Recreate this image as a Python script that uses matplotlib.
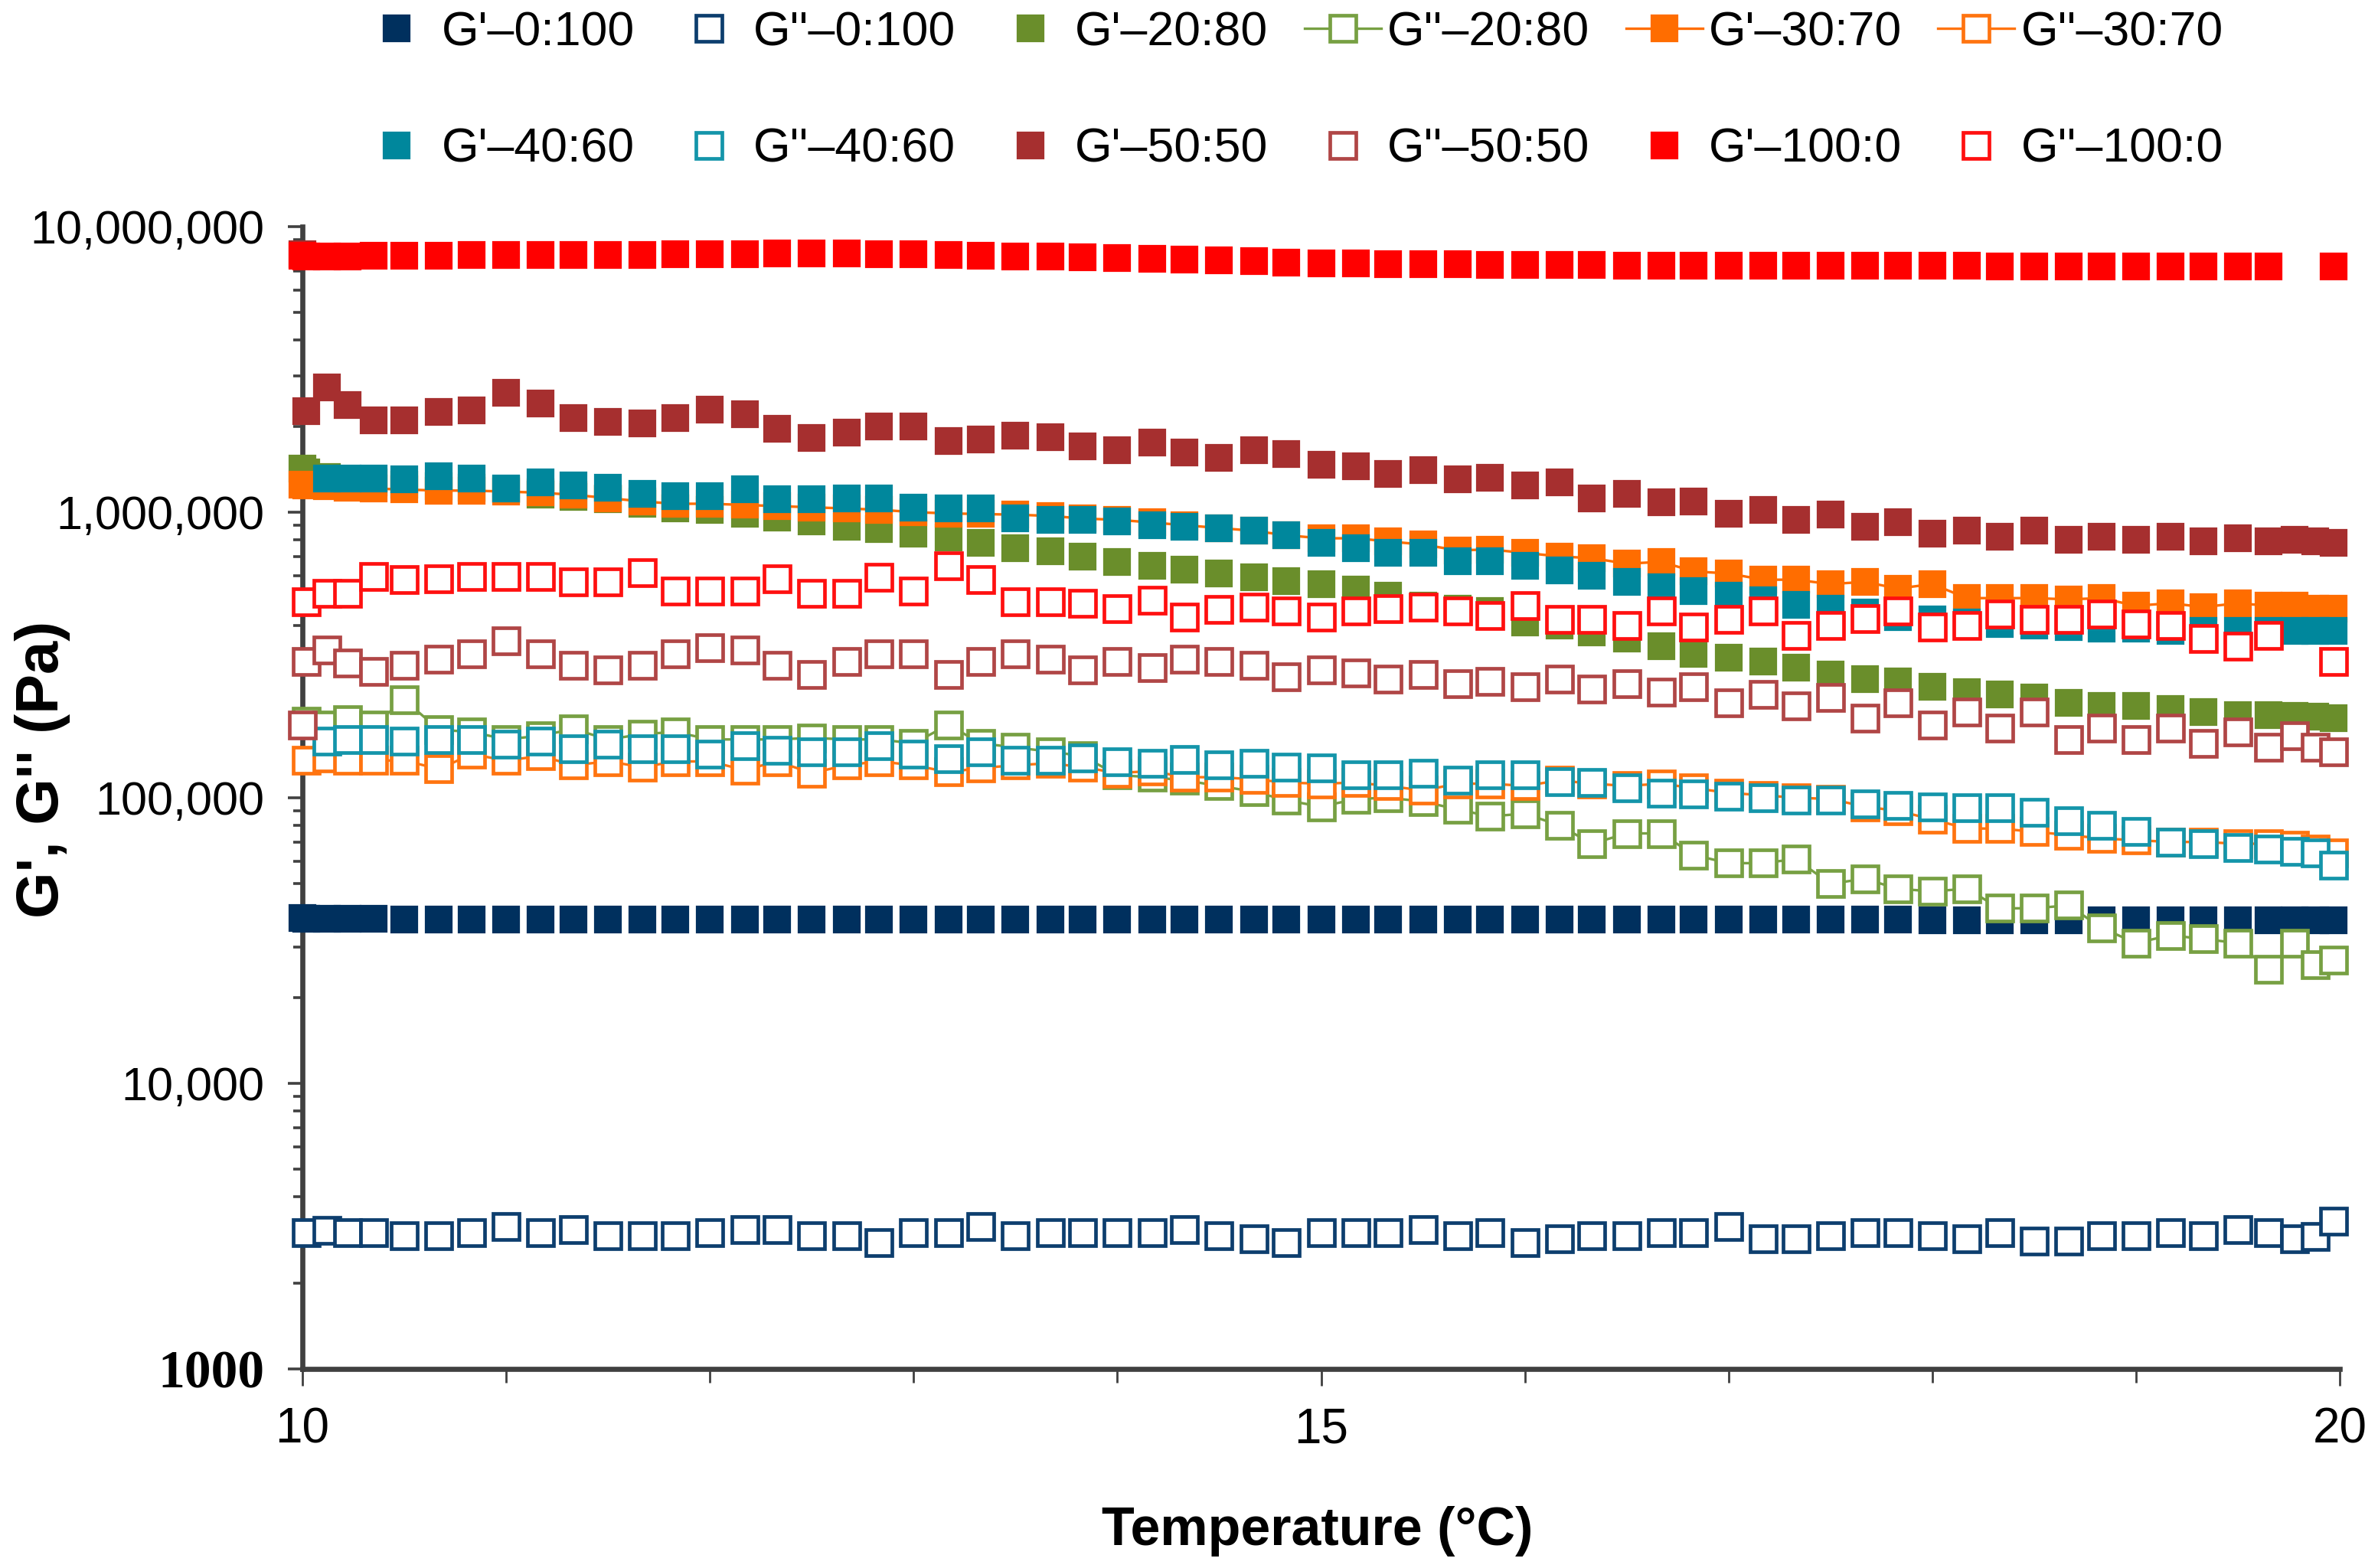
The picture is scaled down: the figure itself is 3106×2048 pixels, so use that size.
import numpy as np
import matplotlib
matplotlib.use('Agg')
import matplotlib.pyplot as plt
from matplotlib import font_manager
from matplotlib.ticker import LogLocator, NullFormatter, MultipleLocator

nan = np.nan

# temperature sweep (°C)
temps = [10.00, 10.02, 10.12, 10.22, 10.35, 10.50, 10.67, 10.83, 11.00, 11.17,
         11.33, 11.50, 11.67, 11.83, 12.00, 12.17, 12.33, 12.50, 12.67, 12.83,
         13.00, 13.17, 13.33, 13.50, 13.67, 13.83, 14.00, 14.17, 14.33, 14.50,
         14.67, 14.83, 15.00, 15.17, 15.33, 15.50, 15.67, 15.83, 16.00, 16.17,
         16.33, 16.50, 16.67, 16.83, 17.00, 17.17, 17.33, 17.50, 17.67, 17.83,
         18.00, 18.17, 18.33, 18.50, 18.67, 18.83, 19.00, 19.17, 19.33, 19.50,
         19.65, 19.78, 19.88, 19.97]

# moduli in kPa
g1_0_100 = [38.0, 37.8, 37.7, 37.6, 37.6, 37.5, 37.5, 37.5, 37.5, 37.5,
            37.5, 37.5, 37.5, 37.5, 37.5, 37.5, 37.5, 37.5, 37.5, 37.5,
            37.5, 37.5, 37.5, 37.5, 37.5, 37.5, 37.5, 37.5, 37.5, 37.5,
            37.5, 37.5, 37.5, 37.5, 37.5, 37.4, 37.4, 37.4, 37.4, 37.4,
            37.4, 37.4, 37.4, 37.4, 37.4, 37.4, 37.4, 37.4, 37.4, 37.4,
            37.3, 37.3, 37.3, 37.3, 37.3, 37.3, 37.3, 37.3, 37.3, 37.3,
            37.3, 37.3, 37.3, 37.3]
g2_0_100 = [nan, 3.00, 3.06, 3.00, 3.00, 2.92, 2.92, 3.00, 3.15, 3.00,
            3.08, 2.92, 2.92, 2.92, 3.00, 3.08, 3.08, 2.92, 2.92, 2.76,
            3.00, 3.00, 3.15, 2.92, 3.00, 3.00, 3.00, 3.00, 3.08, 2.92,
            2.85, 2.76, 3.00, 3.00, 3.00, 3.08, 2.92, 3.00, 2.76, 2.85,
            2.92, 2.92, 3.00, 3.00, 3.15, 2.85, 2.85, 2.92, 3.00, 3.00,
            2.92, 2.85, 3.00, 2.80, 2.80, 2.92, 2.92, 3.00, 2.92, 3.08,
            3.00, 2.85, 2.90, 3.30]
g1_20_80 = [1420, 1380, 1330, 1300, 1270, 1250, 1230, 1220, 1200, 1150,
            1130, 1110, 1070, 1030, 1020, 990, 960, 930, 890, 870,
            840, 815, 780, 750, 730, 700, 670, 650, 630, 610,
            590, 575, 560, 535, 510, 470, 460, 450, 410, 400,
            380, 360, 340, 320, 310, 300, 285, 270, 260, 255,
            245, 235, 230, 225, 215, 210, 210, 205, 200, 195,
            195, 193, 192, 190]
g2_20_80 = [nan, 185, 180, 188, 180, 220, 173, 170, 160, 165,
            174, 160, 167, 170, 160, 160, 160, 162, 160, 160,
            155, 180, 155, 150, 145, 140, 120, 118, 115, 110,
            105, 98, 93, 99, 100, 97, 91, 86, 88, 80,
            69, 75, 75, 63, 59, 59, 61, 50, 52, 48,
            47, 48, 41, 41, 42, 35, 31, 33, 32, 31,
            25, 31, 26, 27]
g1_30_70 = [1250, 1240, 1230, 1220, 1210, 1200, 1190, 1190, 1180, 1170,
            1150, 1120, 1090, 1070, 1070, 1060, 1050, 1040, 1030, 1020,
            1000, 990, 985, 980, 970, 950, 940, 920, 900, 880,
            860, 830, 810, 810, 790, 770, 735, 740, 720, 700,
            690, 660, 670, 620, 610, 580, 580, 560, 570, 540,
            560, 500, 500, 500, 495, 500, 470, 480, 465, 480,
            470, 470, 460, 460]
g2_30_70 = [nan, 135, 138, 135, 135, 135, 126, 142, 135, 140,
            130, 134, 128, 134, 134, 125, 134, 122, 130, 134,
            130, 123, 127, 130, 132, 128, 122, 124, 118, 118,
            116, 113, 112, 113, 110, 106, 112, 112, 110, 115,
            112, 110, 112, 108, 104, 102, 100, 99, 93, 90,
            84, 78, 78, 76, 74, 72, 71, 70, 70, 69,
            69, 68, 66, 64]
g1_40_60 = [nan, nan, 1310, 1310, 1310, 1300, 1340, 1310, 1210, 1270,
            1240, 1220, 1160, 1140, 1140, 1200, 1110, 1110, 1120, 1120,
            1040, 1030, 1030, 950, 940, 940, 930, 900, 890, 880,
            860, 830, 780, 750, 720, 720, 675, 675, 650, 625,
            600, 570, 545, 530, 510, 490, 475, 460, 445, 430,
            420, 410, 405, 400, 395, 390, 390, 385, 385, 385,
            385, 385, 385, 385]
g2_40_60 = [nan, nan, 158, 160, 160, 158, 160, 160, 154, 158,
            148, 154, 148, 148, 142, 152, 147, 145, 145, 152,
            142, 137, 145, 135, 135, 138, 134, 132, 136, 130,
            132, 128, 127, 120, 120, 122, 115, 120, 120, 114,
            113, 108, 104, 103, 101, 100, 98, 98, 95, 94,
            93, 92, 92, 89, 83, 80, 76, 70, 69, 67,
            66, 65, 64, 58]
g1_50_50 = [8000, 2260, 2740, 2370, 2100, 2100, 2240, 2270, 2620, 2400,
            2140, 2070, 2040, 2140, 2280, 2200, 1960, 1820, 1900, 2000,
            2000, 1780, 1800, 1850, 1830, 1700, 1650, 1750, 1620, 1550,
            1650, 1600, 1470, 1450, 1360, 1400, 1300, 1320, 1240, 1270,
            1120, 1160, 1080, 1090, 990, 1020, 940, 980, 890, 920,
            840, 860, 820, 860, 800, 820, 800, 820, 790, 810,
            790, 800, 790, 780]
g2_50_50 = [180, 300, 330, 297, 276, 290, 305, 320, 355, 320,
            290, 280, 290, 320, 335, 330, 290, 270, 300, 320,
            320, 270, 300, 320, 305, 280, 300, 285, 305, 300,
            290, 265, 280, 273, 260, 270, 250, 255, 245, 260,
            240, 250, 235, 245, 215, 230, 210, 225, 190, 215,
            180, 200, 175, 200, 160, 175, 160, 175, 155, 170,
            150, 165, 150, 145]
g1_100_0 = [7900, 7850, 7850, 7850, 7900, 7900, 7900, 7950, 7950, 7950,
            7950, 7950, 7950, 8000, 8000, 8000, 8050, 8050, 8050, 8000,
            8000, 7950, 7900, 7850, 7850, 7800, 7750, 7700, 7650, 7600,
            7550, 7500, 7450, 7450, 7400, 7400, 7400, 7350, 7350, 7350,
            7350, 7300, 7300, 7300, 7300, 7300, 7300, 7300, 7300, 7300,
            7300, 7300, 7250, 7250, 7250, 7250, 7250, 7250, 7250, 7250,
            7250, nan, nan, 7250]
g2_100_0 = [nan, 486, 520, 520, 595, 580, 585, 595, 595, 595,
            570, 570, 615, 530, 530, 530, 585, 520, 520, 590,
            530, 650, 580, 485, 485, 480, 460, 490, 430, 455,
            465, 450, 430, 450, 460, 465, 450, 435, 470, 420,
            420, 400, 450, 395, 420, 450, 370, 400, 425, 450,
            395, 400, 440, 420, 420, 440, 405, 400, 360, 340,
            370, nan, nan, 300]

# label, data, colour, filled marker, connecting line
series = [
    ("G'\u20130:100", g1_0_100, '#00305E', True, False),
    ("G''\u20130:100", g2_0_100, '#0D3E6E', False, False),
    ("G'\u201320:80", g1_20_80, '#6A8E2B', True, False),
    ("G''\u201320:80", g2_20_80, '#77A043', False, True),
    ("G'\u201330:70", g1_30_70, '#FF6D00', True, True),
    ("G''\u201330:70", g2_30_70, '#FF7410', False, True),
    ("G'\u201340:60", g1_40_60, '#00879C', True, False),
    ("G''\u201340:60", g2_40_60, '#1495AA', False, False),
    ("G'\u201350:50", g1_50_50, '#A62F2F', True, False),
    ("G''\u201350:50", g2_50_50, '#B04646', False, False),
    ("G'\u2013100:0", g1_100_0, '#FF0000', True, False),
    ("G''\u2013100:0", g2_100_0, '#FF1010', False, False),
]

installed = {f.name for f in font_manager.fontManager.ttflist}
if 'Liberation Sans Narrow' in installed:
    narrow, nscale = 'Liberation Sans Narrow', 1.0
else:
    narrow, nscale = 'Liberation Sans', 0.9

fig = plt.figure(figsize=(15.53, 10.24), dpi=200)
ax = fig.add_axes([0.1272, 0.1270, 0.8567, 0.7285])

handles = []
for i, (lab, vals, col, filled, line) in enumerate(series):
    y = np.array(vals, dtype=float) * 1000
    h, = ax.plot(temps, y, marker='s', linestyle='-' if line else 'none', lw=1.2,
                 color=col, mec=col, mfc=col if filled else 'white',
                 ms=12.3 if filled else 12.2, mew=0.8 if filled else 1.7,
                 clip_on=False, zorder=3 + i, label=lab)
    handles.append(h)

ax.set_yscale('log')
ax.set_ylim(1e3, 1e7)
ax.set_xlim(10, 20)

for s in ['top', 'right']:
    ax.spines[s].set_visible(False)
for s in ['left', 'bottom']:
    ax.spines[s].set_linewidth(2.4)
    ax.spines[s].set_color('#404040')

ax.set_yticks([1e3, 1e4, 1e5, 1e6, 1e7])
ax.set_yticklabels(['1000', '10,000', '100,000', '1,000,000', '10,000,000'],
                   fontfamily='Liberation Sans', fontsize=22)
ax.yaxis.set_minor_locator(LogLocator(base=10, subs=np.arange(2, 10)))
ax.yaxis.set_minor_formatter(NullFormatter())
lab1000 = ax.get_yticklabels()[0]
lab1000.set_fontfamily('Liberation Serif')
lab1000.set_fontweight('bold')
lab1000.set_fontsize(25)

ax.set_xticks([10, 15, 20])
ax.set_xticklabels(['10', '15', '20'], fontfamily=narrow, fontsize=25.5 * nscale)
ax.xaxis.set_minor_locator(MultipleLocator(1))

ax.tick_params(axis='y', which='major', direction='out', length=7, width=1.3,
               color='#404040', pad=11)
ax.tick_params(axis='y', which='minor', direction='out', length=4.5, width=1.3,
               color='#404040')
ax.tick_params(axis='x', which='major', direction='out', length=8, width=1.0,
               color='#404040', pad=10)
ax.tick_params(axis='x', which='minor', direction='out', length=6.5, width=1.0,
               color='#404040')

ax.set_xlabel('Temperature (\u00b0C)', fontfamily=narrow, fontweight='bold',
              fontsize=28 * nscale)
ax.xaxis.set_label_coords(0.498, -0.142)
ax.xaxis.label.set_verticalalignment('center')

ax.set_ylabel("G', G'' (Pa)", fontfamily='Liberation Sans', fontweight='bold', fontsize=28)
ax.yaxis.set_label_coords(-0.1275, 0.5248)
ax.yaxis.label.set_verticalalignment('center')

# legend: 2 rows x 6 columns, filled row-wise
order = [0, 6, 1, 7, 2, 8, 3, 9, 4, 10, 5, 11]
fs = 25 * nscale
fig.legend([handles[k] for k in order], [series[k][0] for k in order],
           loc='upper left', bbox_to_anchor=(0.1507, 0.9935), ncol=6,
           frameon=False, prop={'family': narrow, 'size': fs},
           handlelength=36 / fs, handletextpad=3 / fs, columnspacing=17 / fs,
           labelspacing=1.49, borderpad=0, borderaxespad=0,
           numpoints=1)

fig.savefig('out.png', dpi=200)
